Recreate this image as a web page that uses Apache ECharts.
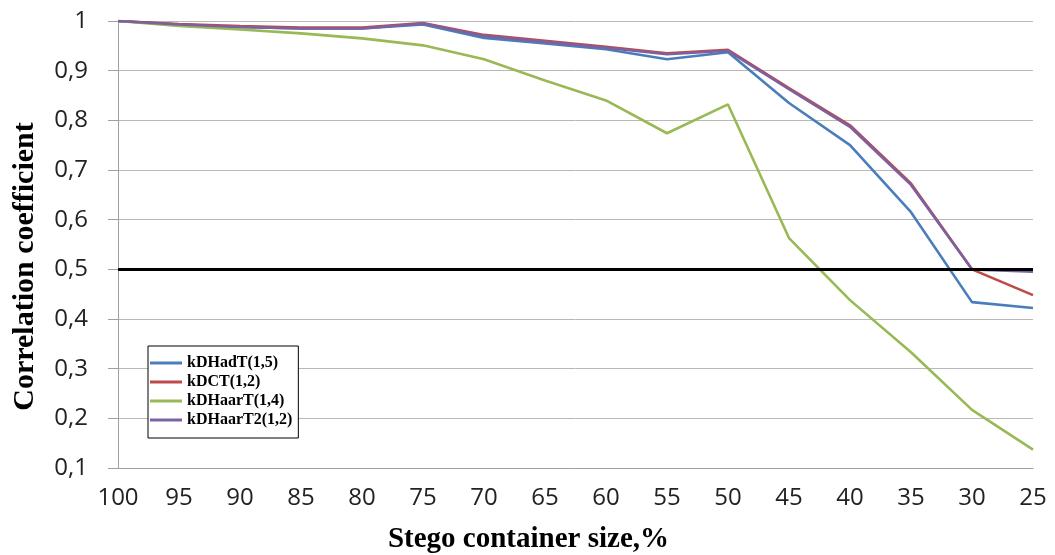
<!DOCTYPE html>
<html>
<head>
<meta charset="utf-8">
<script src="https://cdn.jsdelivr.net/npm/echarts@6/dist/echarts.min.js"></script>
<style>
  html, body { margin: 0; padding: 0; background: #fff; }
  #chart { width: 1055px; height: 555px; }
</style>
</head>
<body>
<div id="chart"></div>
<script>
// stego container size, %
const sizes = ['100', '95', '90', '85', '80', '75', '70', '65', '60', '55', '50', '45', '40', '35', '30', '25']

const kDHadT = [1, 0.993, 0.988, 0.985, 0.985, 0.993, 0.966, 0.955, 0.943, 0.923, 0.937, 0.835, 0.75, 0.615, 0.434, 0.422]
const kDCT = [1, 0.994, 0.99, 0.987, 0.987, 0.996, 0.972, 0.96, 0.948, 0.935, 0.942, 0.865, 0.79, 0.673, 0.5, 0.448]
const kDHaarT = [1, 0.99, 0.983, 0.975, 0.965, 0.951, 0.923, 0.88, 0.84, 0.774, 0.832, 0.563, 0.438, 0.333, 0.217, 0.137]
const kDHaarT2 = [1, 0.993, 0.988, 0.985, 0.985, 0.995, 0.970, 0.958, 0.946, 0.933, 0.94, 0.863, 0.787, 0.67, 0.5, 0.495]

const threshold = 0.5

const chart = echarts.init(document.getElementById('chart'))

const serifBold = {
  fontFamily: 'Liberation Serif',
  fontWeight: 'bold',
  color: '#000'
}

function lineSeries (name, data, color) {
  return {
    name: name,
    type: 'line',
    data: data,
    symbol: 'none',
    lineStyle: { color: color, width: 2.6 },
    itemStyle: { color: color }
  }
}

const series = [
  lineSeries('kDHadT(1,5)', kDHadT, '#4a7ebb'),
  lineSeries('kDCT(1,2)', kDCT, '#be4b48'),
  lineSeries('kDHaarT(1,4)', kDHaarT, '#98b954'),
  lineSeries('kDHaarT2(1,2)', kDHaarT2, '#7d60a0')
]
// black threshold line at 0.5
series[2].markLine = {
  silent: true,
  symbol: 'none',
  label: { show: false },
  lineStyle: { color: '#000', width: 3, type: 'solid' },
  data: [{ yAxis: threshold }]
}

chart.setOption({
  animation: false,
  grid: { left: 118, right: 22, top: 21, bottom: 87, outerBoundsMode: 'none' },
  legend: {
    orient: 'vertical',
    left: 148,
    top: 346,
    padding: [9, 6, 10, 2],
    itemGap: 3,
    itemWidth: 32,
    itemHeight: 3,
    icon: 'rect',
    backgroundColor: '#fff',
    borderColor: '#000',
    borderWidth: 1,
    textStyle: Object.assign({ fontSize: 16 }, serifBold),
    data: series.map(s => s.name)
  },
  xAxis: {
    type: 'category',
    data: sizes,
    boundaryGap: false,
    name: 'Stego container size,%',
    nameLocation: 'middle',
    nameGap: 57,
    nameTextStyle: Object.assign({ fontSize: 29, lineHeight: 29, padding: [0, 94, 0, 0] }, serifBold),
    axisLine: { lineStyle: { color: '#a0a0a0' } },
    axisTick: { show: false },
    axisLabel: { fontFamily: 'Open Sans', fontSize: 24, color: '#222', margin: 18 }
  },
  yAxis: {
    type: 'value',
    min: 0.1,
    max: 1,
    interval: 0.1,
    name: 'Correlation coefficient',
    nameLocation: 'middle',
    nameGap: 78,
    nameTextStyle: Object.assign({ fontSize: 30, padding: [0, 44, 0, 0] }, serifBold),
    axisLine: { show: true, lineStyle: { color: '#a0a0a0' } },
    axisTick: { show: true, length: 10, lineStyle: { color: '#a0a0a0' } },
    axisLabel: {
      fontFamily: 'Open Sans',
      fontSize: 24,
      color: '#222',
      margin: 30,
      formatter: v => String(+v.toFixed(1)).replace('.', ',')
    },
    splitLine: { lineStyle: { color: '#b8b8b8' } }
  },
  series: series
})
</script>
</body>
</html>
